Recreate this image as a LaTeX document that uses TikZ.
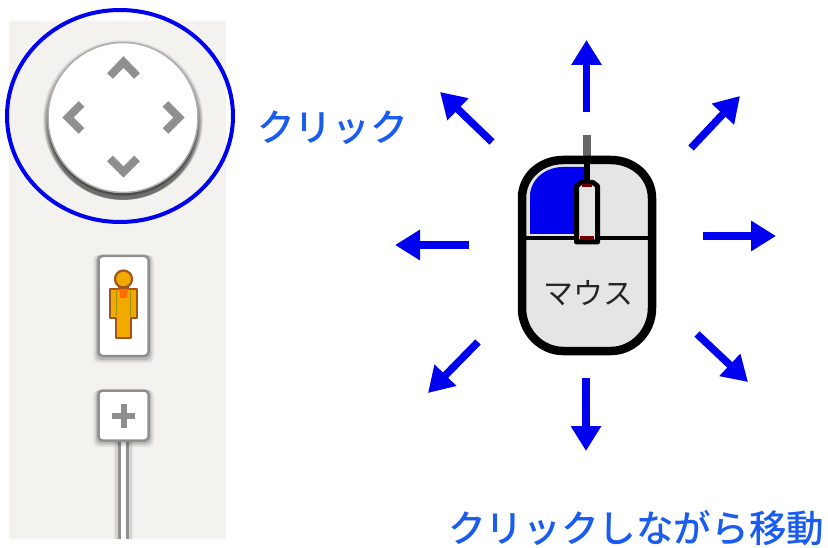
\documentclass[tikz,border=0pt]{standalone}
\usepackage{fontspec}
\usetikzlibrary{arrows.meta,shapes.geometric}
\newfontfamily\cjk{Noto Sans CJK JP Medium}
\newfontfamily\cjkreg{Noto Sans CJK JP}
\definecolor{panel}{HTML}{F3F2EE}
\definecolor{mblue}{HTML}{0000F0}
\definecolor{txtblue}{HTML}{1A5CF0}
\definecolor{ctrl}{HTML}{8F8F8F}
\definecolor{pegfill}{HTML}{F2A900}
\definecolor{pegline}{HTML}{A0551E}
\tikzset{
  x=1pt,y=-1pt,
  movearrow/.style={draw=mblue,line width=7.5pt,-{Triangle[length=25pt,width=29pt]}},
  chevron/.style={draw=ctrl,line width=8pt,line join=miter,miter limit=4},
  uibutton/.style={draw=ctrl,line width=2.5pt,fill=white,rounded corners=4pt},
  labeltext/.style={text=txtblue,font=\cjk\fontsize{37.6}{37.6}\selectfont,inner sep=0pt,anchor=west},
}
\begin{document}
\begin{tikzpicture}
\useasboundingbox (0,0) rectangle (828,548);
\fill[white] (0,0) rectangle (828,548);
\fill[panel] (9,21) rectangle (226,539);
% pan control shadow: many faint discs, growing downward
\foreach \i in {0,...,19}{\fill[black,opacity=.035] (123,120+\i*.28) circle[radius=80-\i*.3];}
\foreach \r/\y in {76/119,75.5/120,75/121}{\fill[black,opacity=.12] (123,\y) circle[radius=\r];}
\node[circle,draw=black!32,line width=1.5pt,fill=white,minimum size=150pt,inner sep=0pt] (dial) at (123,117.5) {};
\draw[chevron] (110,76) -- (123.5,62) -- (137,76);
\draw[chevron] (110,158.5) -- (123.5,172) -- (137,158.5);
\draw[chevron] (81.5,104) -- (68,117.5) -- (81.5,131);
\draw[chevron] (165.5,104) -- (179,117.5) -- (165.5,131);
\node[ellipse,draw=mblue,line width=4pt,minimum width=226pt,minimum height=212pt,inner sep=0pt] (ring) at (120,116) {};
% pegman button
\foreach \d/\o in {5/.05,3.5/.08,2/.12}{\fill[black,opacity=\o,rounded corners=5pt] (98-\d,255) rectangle (149+\d,357+\d+1);}
\node[uibutton,minimum width=50pt,minimum height=100pt,inner sep=0pt] (pegbtn) at (123.5,306) {};
\draw[pegline,fill=pegfill,line width=2.6pt,line join=round]
  (110,289) -- (137,289) -- (137,318) -- (131,318) -- (131,338) -- (116,338) -- (116,318) -- (110,318) -- cycle;
\draw[olive!80!pegfill,line width=1.5pt] (116.5,291) -- (116.5,316) (130.5,291) -- (130.5,316);
\node[circle,draw=pegline,line width=2.2pt,fill=pegfill,minimum size=17pt,inner sep=0pt] (peghead) at (123.5,279) {};
\fill[pegline] (118,286) -- (129,286) -- (129,289) -- (118,289) -- cycle;
\fill[orange!85!red] (118,289) -- (129,289) -- (127,293) -- (127,298) -- (120,298) -- (120,293) -- cycle;
% plus button and stem
\foreach \d/\o in {4/.05,3/.07}{\fill[black,opacity=\o] (118-\d,441) rectangle (129+\d,539);}
\fill[white] (118,441) rectangle (129,539);
\draw[ctrl,line width=2.5pt] (119.5,441) -- (119.5,539) (127.5,441) -- (127.5,539);
\foreach \d/\o in {5/.05,3.5/.08,2/.12}{\fill[black,opacity=\o,rounded corners=5pt] (98-\d,390) rectangle (149+\d,441+\d+1);}
\node[uibutton,minimum width=50pt,minimum height=50pt,inner sep=0pt] (plusbtn) at (123.5,415.5) {};
\draw[ctrl,line width=6pt] (123.5,404) -- (123.5,428);
\draw[ctrl,line width=6pt] (112,416) -- (135,416);
% mouse
\draw[black!60,line width=8pt] (587,135) -- (587,158);
\def\mouseoutline{(522,198) .. controls (522,176) and (541,160) .. (563,160) -- (611,160) .. controls (633,160) and (652,176) .. (652,198) -- (652,308) .. controls (652,332) and (633,351) .. (611,351) -- (563,351) .. controls (541,351) and (522,332) .. (522,308) -- cycle}
\fill[black!10] \mouseoutline;
\fill[mblue] (530,234) -- (530,196) .. controls (530,180) and (545,167) .. (563,167) -- (587,167) -- (587,234) -- cycle;
\draw[black,line width=8.5pt] \mouseoutline;
\draw[black,line width=3.5pt] (524,238) -- (650,238);
\draw[black,line width=6pt] (587,160) -- (587,182);
\draw[black,fill=black!10,line width=5pt,line join=round] (576.5,242) -- (576.5,186) -- (581,182.5) -- (593,182.5) -- (597.5,186) -- (597.5,242) -- cycle;
\fill[red!45!black] (582,184) rectangle (592,187.5);
\fill[red!45!black] (580,236) rectangle (594,240);
\node[inner sep=0pt,font=\cjkreg\fontsize{30}{30}\selectfont,text=black!85] (mouselabel) at (588,293) {マウス};
% arrows
\coordinate (up0) at (586.5,112); \coordinate (up1) at (586.5,40);
\coordinate (dn0) at (586,378); \coordinate (dn1) at (586,451);
\coordinate (lf0) at (469,245); \coordinate (lf1) at (395,245);
\coordinate (rt0) at (703,236); \coordinate (rt1) at (776,236);
\coordinate (nw0) at (492,142); \coordinate (nw1) at (440,92);
\coordinate (ne0) at (691,148); \coordinate (ne1) at (740,96);
\coordinate (sw0) at (478,342); \coordinate (sw1) at (428,393);
\coordinate (se0) at (697,334); \coordinate (se1) at (748,382);
\foreach \n in {up,dn,lf,rt,nw,ne,sw,se}{\draw[movearrow] (\n0) -- (\n1);}
\node[labeltext] (click) at (257,128) {クリック};
\node[labeltext] (drag) at (448,528) {クリックしながら移動};
\end{tikzpicture}
\end{document}
